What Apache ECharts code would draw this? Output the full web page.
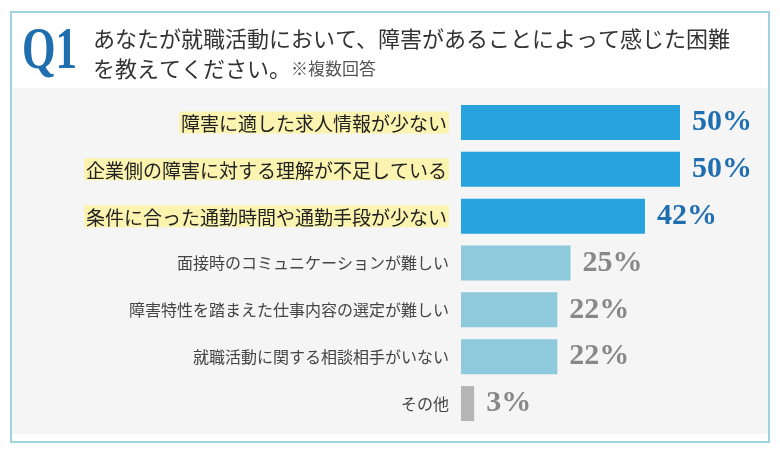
<!DOCTYPE html><html><head><meta charset="utf-8"><script src="https://cdn.jsdelivr.net/npm/echarts@6/dist/echarts.min.js"></script>
<style>body{margin:0;background:#fff}#c{width:780px;height:453px}</style></head><body><div id="c"></div><script>
const categories=["障害に適した求人情報が少ない","企業側の障害に対する理解が不足している","条件に合った通勤時間や通勤手段が少ない","面接時のコミュニケーションが難しい","障害特性を踏まえた仕事内容の選定が難しい","就職活動に関する相談相手がいない","その他"];
const values=[50,50,42,25,22,22,3];
const tickLabels=["0","10","20","30","40","50"];
const colors=["#27a3dd","#27a3dd","#27a3dd","#8fc9dc","#8fc9dc","#8fc9dc","#b5b5b5"];
const c=echarts.init(document.getElementById('c'));
const jp='"Noto Sans CJK JP"';
c.setOption({
graphic:[
{type:'rect',shape:{x:11,y:12,width:758,height:430},style:{fill:'#fff',stroke:'#9fd3e0',lineWidth:2}},
{type:'rect',shape:{x:12,y:88,width:756,height:346},style:{fill:'#f5f5f5'}},
{type:'text',x:22,y:22,scaleX:0.72,style:{text:'Q1',font:'bold 60px "Liberation Sans Narrow"',fill:'#1f6fb0'}},
{type:'text',left:93,top:28,style:{text:'あなたが就職活動において、障害があることによって感じた困難',font:'22px '+jp,fill:'#333'}},
{type:'text',left:93,top:58,style:{rich:{a:{font:'22px '+jp,fill:'#333'},b:{font:'17px '+jp,fill:'#555'}},text:'{a|を教えてください。}{b|※複数回答}'}}
],
grid:{left:461,right:100,top:99,bottom:26},
xAxis:{type:'value',min:0,max:50,interval:10,show:false,axisLabel:{formatter:(v)=>tickLabels[v/10]}},
yAxis:{type:'category',data:categories,inverse:true,axisLine:{show:false},axisTick:{show:false},
axisLabel:{margin:12,formatter:(v,i)=>i<3?'{h|'+v+'}':'{n|'+v+'}',rich:{h:{fontFamily:jp,fontSize:19,color:'#222',backgroundColor:'#fbf4b0',padding:[3,2,0,2]},n:{fontFamily:jp,fontSize:16,color:'#444'}}}},
series:[{type:'bar',data:values.map((v,i)=>({value:v,itemStyle:{color:colors[i]},label:{color:i<3?'#1f6fb0':'#888'}})),barWidth:35,
label:{show:true,position:'right',distance:12,formatter:'{c}%',fontFamily:'"Liberation Sans Narrow"',fontWeight:'bold',fontSize:30}}]
});
</script></body></html>
